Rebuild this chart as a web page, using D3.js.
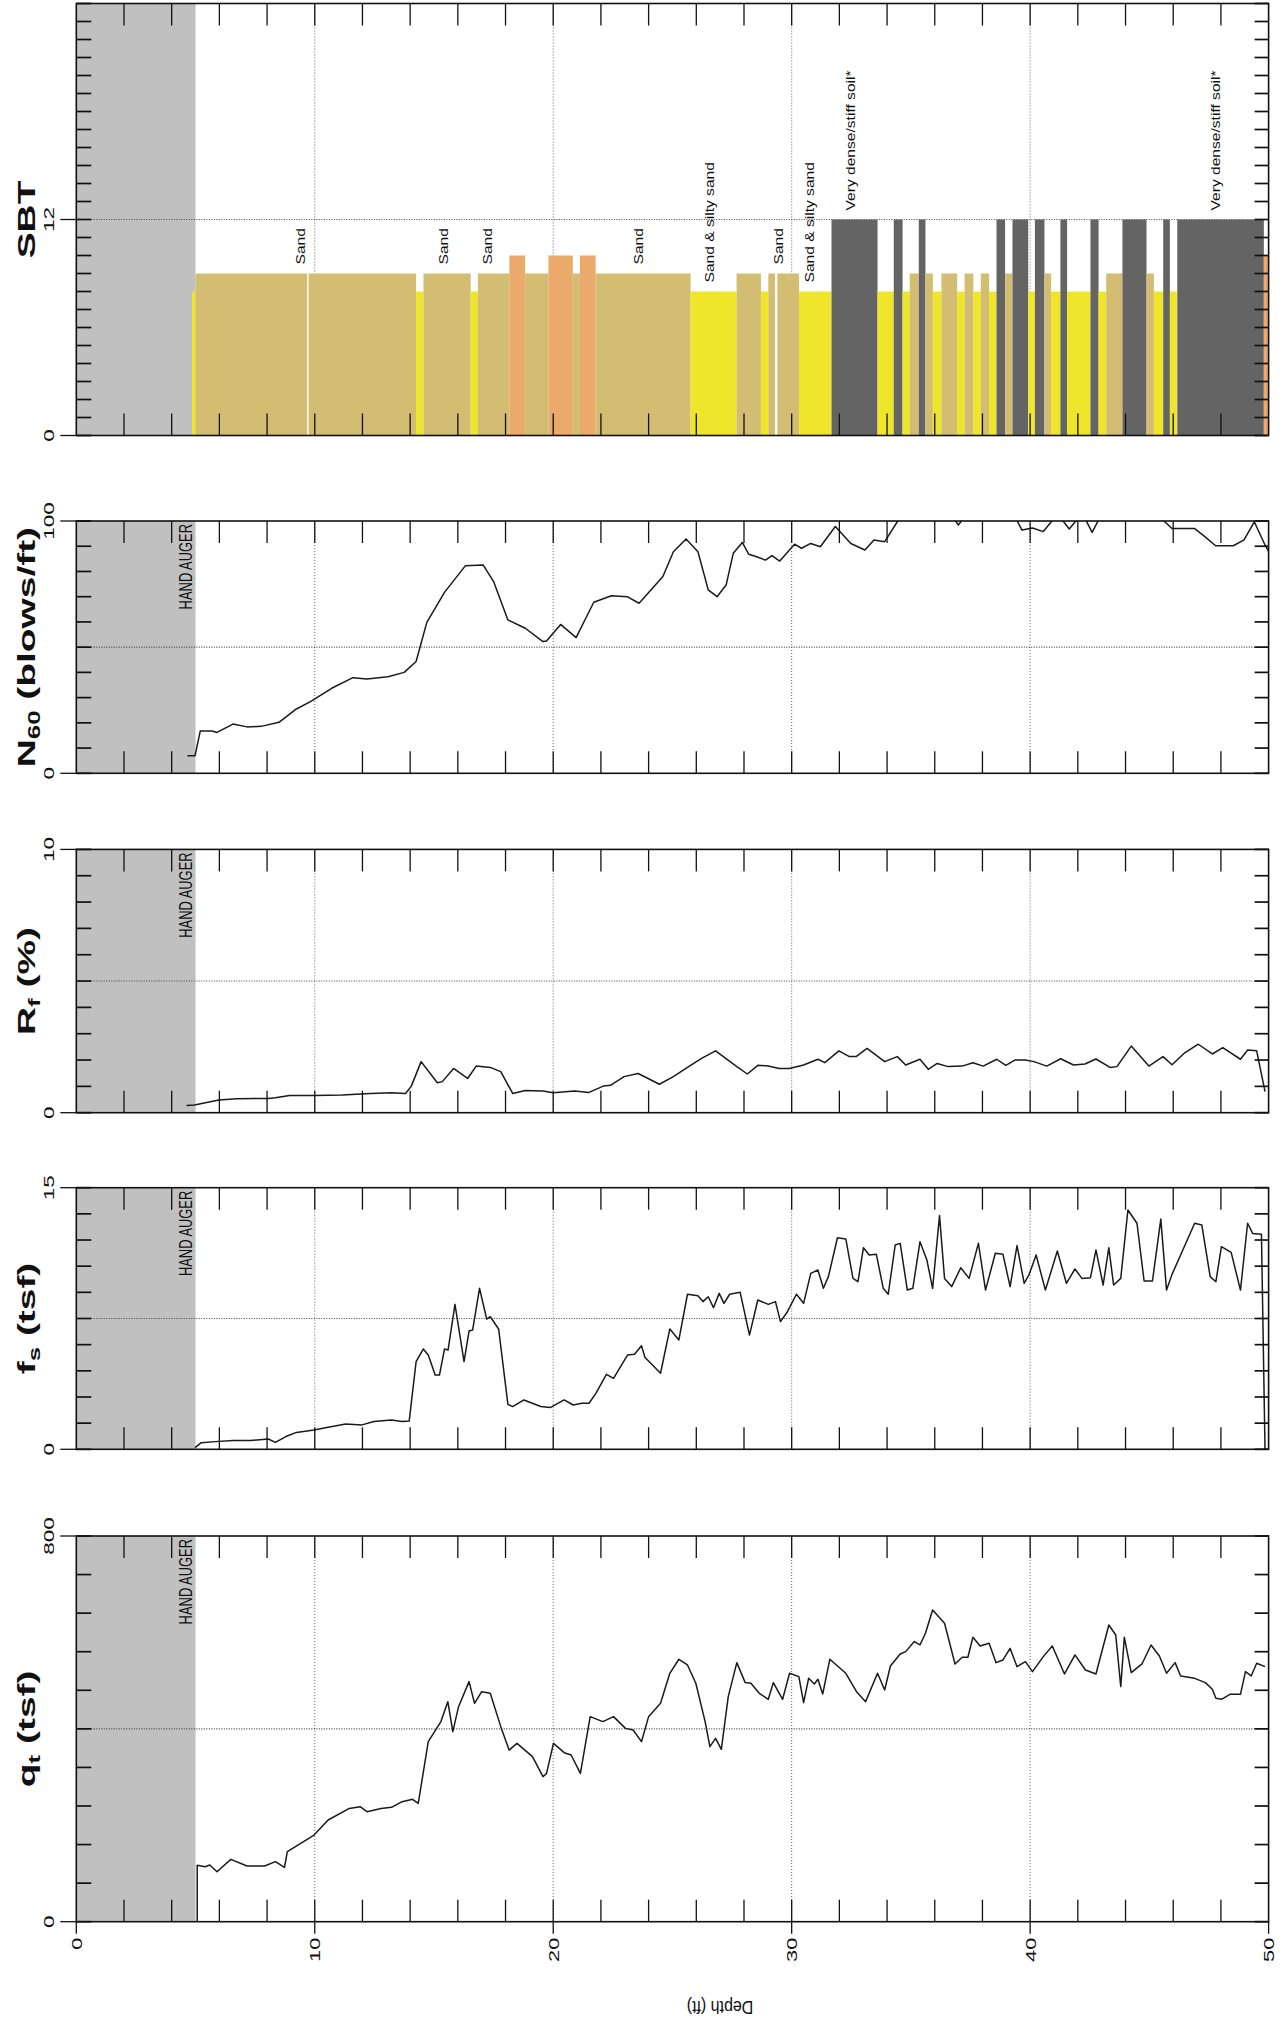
<!DOCTYPE html>
<html><head><meta charset="utf-8">
<script src="https://cdn.jsdelivr.net/npm/d3@7"></script>
<style>
body{margin:0;background:#fff}
svg{display:block}
text{font-family:"Liberation Sans",Arial,Helvetica,sans-serif;fill:#111}
</style>
</head><body>
<svg id="chart" width="1288" height="2028"></svg>
<script>
// ---------------- DATA ----------------
const depthTickLabels = [0, 10, 20, 30, 40, 50];
const handAugerDepth = 5;

// SBT zone colours
const sbtZones  = [8, 9, 10, 12];
const sbtColors = ["#efe52a", "#d3bd72", "#eba96c", "#646464"];

// SBT layers: [top depth, bottom depth, zone]
const sbtLayers = [
  [4.85, 5.0, 8], [5.0, 9.68, 9], [9.74, 14.25, 9], [14.25, 14.56, 8],
  [14.56, 16.54, 9], [16.54, 16.84, 8], [16.84, 18.16, 9], [18.16, 18.82, 10],
  [18.82, 19.8, 9], [19.8, 20.82, 10], [20.82, 21.12, 9], [21.12, 21.78, 10],
  [21.78, 25.76, 9], [25.76, 27.69, 8], [27.69, 28.71, 9], [28.71, 29.02, 8],
  [29.02, 29.3, 9], [29.4, 30.31, 9], [30.31, 31.67, 8], [31.67, 33.6, 12],
  [33.6, 34.28, 8], [34.28, 34.65, 12], [34.65, 34.95, 8], [34.95, 35.33, 9],
  [35.33, 35.61, 12], [35.61, 35.92, 9], [35.92, 36.28, 8], [36.28, 36.94, 9],
  [36.94, 37.25, 8], [37.25, 37.62, 9], [37.62, 37.93, 8], [37.93, 38.28, 9],
  [38.28, 38.59, 8], [38.59, 38.95, 12], [38.95, 39.26, 9], [39.26, 39.92, 12],
  [39.92, 40.2, 8], [40.2, 40.6, 12], [40.6, 40.88, 9], [40.88, 41.27, 8],
  [41.27, 41.55, 12], [41.55, 42.53, 8], [42.53, 42.87, 12], [42.87, 43.19, 8],
  [43.19, 43.87, 9], [43.87, 44.88, 12], [44.88, 45.19, 9], [45.19, 45.58, 8],
  [45.58, 45.86, 12], [45.86, 46.15, 8], [46.17, 49.8, 12], [49.8, 50.0, 10]
];

// SBT labels: [depth, text, zone]
const sbtLabels = [
  [9.45, "Sand", 9], [15.45, "Sand", 9], [17.3, "Sand", 9], [23.6, "Sand", 9],
  [26.6, "Sand & silty sand", 8], [29.5, "Sand", 9], [30.8, "Sand & silty sand", 8],
  [32.5, "Very dense/stiff soil*", 12], [47.8, "Very dense/stiff soil*", 12]
];

// N60 (blows/ft): [depth, value]
const n60Data = [
  [4.66,7],[4.98,7],[5.2,16.8],[5.69,16.8],[5.9,16.2],[6.57,19.5],[7.16,18.4],[7.75,18.6],
  [8.5,20.2],[9.23,25.5],[9.82,28.4],[10.71,33.7],[11.6,37.9],[12.19,37.4],[13.07,38.3],
  [13.75,40],[14.25,44.3],[14.7,59.8],[15.44,71.7],[16.32,82.3],[17.06,82.6],[17.5,76],
  [18.1,60.8],[18.83,57.5],[19.57,52.2],[19.72,52.4],[20.31,59],[20.96,53.8],[21.7,67.8],
  [22.44,70.4],[23.1,70],[23.6,67.4],[24.6,78],[25.04,87.8],[25.57,92.9],[26.07,87.8],
  [26.5,72.7],[26.87,70],[27.25,74.6],[27.55,87.2],[27.93,91.5],[28.2,86.8],[28.5,85.9],
  [28.9,84.5],[29.17,86.3],[29.5,84.1],[30.12,90.8],[30.41,89.2],[30.8,91.1],[31.2,89.8],
  [31.83,97.8],[32.48,91.1],[33.07,88.5],[33.45,92.5],[33.9,91.8],[34.43,99.7],[34.6,101],
  [36.8,101],[36.99,98.4],[37.2,101],[39.4,101],[39.66,96.4],[40.1,97.2],[40.55,95.8],
  [41.0,101],[41.3,101],[41.64,96.8],[42.0,101],[42.3,101],[42.6,95.5],[42.9,101],
  [45.5,101],[45.95,97],[46.9,97],[47.3,94],[47.78,90.2],[48.52,90.2],[48.97,92.5],
  [49.4,99.7],[49.85,90.5],[50,88]
];

// Rf (%): [depth, value]
const rfData = [
  [4.62,0.27],[4.95,0.29],[5.98,0.48],[6.72,0.53],[8.05,0.54],[8.35,0.57],[8.94,0.65],
  [9.97,0.65],[11.15,0.67],[12.33,0.73],[13.22,0.76],[13.81,0.73],[14.05,1.01],[14.46,1.94],
  [15.14,1.14],[15.35,1.18],[15.82,1.68],[16.41,1.3],[16.77,1.77],[17.36,1.72],[17.8,1.56],
  [18.3,0.73],[18.83,0.84],[19.57,0.82],[20.0,0.76],[20.9,0.82],[21.5,0.77],[22.1,1.01],
  [22.4,1.04],[22.97,1.37],[23.56,1.49],[24.0,1.29],[24.45,1.08],[25.04,1.37],[25.63,1.72],
  [26.22,2.06],[26.81,2.35],[27.7,1.75],[28.14,1.47],[28.58,1.8],[29.02,1.77],[29.47,1.68],
  [29.9,1.68],[30.5,1.81],[31.1,2.03],[31.39,1.9],[31.98,2.35],[32.42,2.13],[32.7,2.13],
  [33.16,2.44],[33.9,1.94],[34.43,2.13],[34.78,1.81],[35.38,2.03],[35.73,1.65],[36.1,1.87],
  [36.56,1.75],[37.15,1.77],[37.6,1.9],[38.03,1.77],[38.6,2.03],[38.98,1.8],[39.36,2.0],
  [39.8,2.0],[40.16,1.94],[40.7,1.77],[41.28,2.05],[41.82,1.81],[42.3,1.85],[42.76,2.04],
  [43.35,1.72],[43.64,1.75],[44.24,2.53],[44.98,1.77],[45.57,2.13],[45.95,1.82],[46.45,2.25],
  [47.05,2.6],[47.64,2.23],[48.08,2.47],[48.82,2.03],[49.12,2.38],[49.5,2.35],[49.85,0.8]
];

// fs (tsf): [depth, value]
const fsData = [
  [4.98,0.1],[5.24,0.38],[5.83,0.44],[6.57,0.5],[7.31,0.5],[8.05,0.59],[8.35,0.4],[8.79,0.73],
  [9.23,0.97],[9.97,1.11],[10.56,1.26],[11.3,1.45],[11.98,1.4],[12.48,1.59],[13.22,1.68],
  [13.66,1.59],[13.96,1.62],[14.25,5.03],[14.55,5.75],[14.76,5.41],[15.05,4.26],[15.23,4.26],
  [15.44,5.75],[15.59,5.69],[15.88,8.31],[16.26,5.03],[16.47,6.78],[16.62,6.84],[16.91,9.23],
  [17.21,7.47],[17.36,7.6],[17.71,6.9],[18.1,2.58],[18.3,2.45],[18.77,2.83],[19.48,2.45],
  [19.87,2.39],[20.46,2.83],[20.84,2.54],[21.2,2.64],[21.5,2.64],[21.79,3.21],[22.23,4.3],
  [22.53,4.07],[23.12,5.41],[23.41,5.45],[23.7,5.94],[23.85,5.26],[24.09,4.93],[24.5,4.36],
  [24.89,6.9],[25.27,6.27],[25.63,8.89],[26.07,8.81],[26.28,8.47],[26.5,8.75],[26.72,8.12],
  [26.96,8.94],[27.16,8.37],[27.4,8.89],[27.84,9.0],[28.23,6.55],[28.58,8.56],[29.02,8.31],
  [29.32,8.47],[29.53,7.32],[29.82,7.89],[30.2,8.89],[30.5,8.37],[30.8,10.09],[31.1,10.28],
  [31.33,9.23],[31.54,9.9],[31.92,12.13],[32.27,12.06],[32.57,9.8],[32.78,9.61],[33.01,11.56],
  [33.25,11.14],[33.55,11.18],[33.84,9.23],[34.05,8.89],[34.34,11.71],[34.55,11.81],
  [34.85,9.13],[35.08,9.23],[35.38,11.9],[35.67,10.85],[35.91,9.23],[36.2,13.4],[36.41,9.8],
  [36.71,9.33],[37.09,10.41],[37.44,9.8],[37.83,11.81],[38.13,9.13],[38.54,11.24],
  [38.86,11.18],[39.16,9.33],[39.45,11.68],[39.75,9.52],[39.96,10.03],[40.25,11.14],
  [40.64,9.13],[41.14,11.37],[41.52,9.52],[41.88,10.34],[42.17,9.8],[42.53,9.84],
  [42.76,11.43],[43.06,9.42],[43.3,11.56],[43.5,9.42],[43.8,9.8],[44.1,13.72],[44.48,12.96],
  [44.78,9.65],[45.13,9.65],[45.48,13.2],[45.72,9.13],[45.95,10.03],[46.31,11.14],
  [46.9,12.96],[47.2,12.86],[47.55,9.9],[47.79,9.61],[48.02,11.62],[48.43,11.29],
  [48.82,9.13],[49.12,12.96],[49.33,12.38],[49.7,12.33],[49.85,0]
];

// qt (tsf): [depth, value]
const qtData = [
  [5.07,0],[5.07,117],[5.4,114],[5.6,117.6],[5.9,103.7],[6.48,129.3],[7.16,115.5],[7.9,115.5],
  [8.35,124.5],[8.73,112.7],[8.85,145.2],[9.53,166],[9.97,179.8],[10.56,211],[11.45,235],
  [11.9,238.6],[12.19,228.2],[12.78,235],[13.22,237.2],[13.66,249],[14.1,253.8],[14.34,245.5],
  [14.76,373.4],[15.29,415],[15.58,456.4],[15.79,394.2],[16.03,446],[16.47,498],[16.7,453],
  [17.0,477],[17.36,473.7],[17.8,404.6],[18.15,356],[18.48,370],[19.13,342.3],[19.57,300.8],
  [19.72,307.7],[20.01,370],[20.46,350.6],[20.75,345.8],[21.14,307.7],[21.55,425.3],
  [22.08,415],[22.53,425.3],[23.03,401],[23.35,397.6],[23.7,373.4],[24.0,425.3],[24.5,453],
  [24.89,515.2],[25.27,544.3],[25.63,532.5],[25.98,494.5],[26.37,415],[26.57,363],
  [26.81,380.4],[27.05,357.5],[27.34,466.8],[27.7,537.3],[28.05,495.9],[28.29,494.5],
  [28.64,473.7],[29.02,461.3],[29.23,495.9],[29.62,461.3],[29.91,515.2],[30.3,508.3],
  [30.5,454.4],[30.71,504.8],[30.95,493],[31.1,502.8],[31.3,472.3],[31.6,544.3],[32.27,515.2],
  [32.72,477.2],[33.1,456.4],[33.6,515.2],[33.9,480.6],[34.14,530.4],[34.55,555.3],
  [34.78,560.2],[35.14,581],[35.38,574],[35.61,598.2],[35.91,646.6],[36.41,619],[36.85,534.6],
  [37.15,548.4],[37.39,548.4],[37.6,590],[37.9,572],[38.28,577.5],[38.57,537.3],[38.86,542.9],
  [39.16,567],[39.45,529],[39.8,539.4],[40.1,518.7],[40.55,549.8],[40.93,572],[41.44,513.8],
  [41.88,553.3],[42.32,522.1],[42.76,513.8],[43.3,615.5],[43.59,594.7],[43.8,487.6],
  [43.95,589.9],[44.24,516.6],[44.69,534.6],[45.07,574],[45.42,551.2],[45.72,515.2],
  [46.08,537.3],[46.31,509.7],[46.9,504.8],[47.35,495.9],[47.64,482],[47.79,463.4],
  [48.02,461.3],[48.38,471.6],[48.82,471.6],[49.03,518.7],[49.27,509.7],[49.5,536],[49.85,529]
];

// ---------------- LAYOUT ----------------
const svg = d3.select("#chart");
const x = d3.scaleLinear().domain([0, 50]).range([76.3, 1268.6]);

const panels = [
  {id:"sbt", top:3.5,   bottom:435.5,  max:24,  step:1,   labels:[0,12],  grid:12,  title:[["SBT",""]], type:"bars"},
  {id:"n60", top:521,   bottom:773.3,  max:100, step:10,  labels:[0,100], grid:50,  title:[["N",""],["60","sub"],[" (blows/ft)",""]], data:n60Data},
  {id:"rf",  top:849.4, bottom:1112.7, max:10,  step:1,   labels:[0,10],  grid:5,   title:[["R",""],["f","sub"],[" (%)",""]], data:rfData},
  {id:"fs",  top:1187.7,bottom:1449.3, max:15,  step:1.5, labels:[0,15],  grid:7.5, title:[["f",""],["s","sub"],[" (tsf)",""]], data:fsData},
  {id:"qt",  top:1536,  bottom:1921.7, max:800, step:80,  labels:[0,800], grid:400, title:[["q",""],["t","sub"],[" (tsf)",""]], data:qtData}
];

function vtext(g, px, py, anchor, size, sx, weight) {
  return g.append("text")
    .attr("transform", `translate(${px},${py}) rotate(-90) scale(${sx},1)`)
    .attr("text-anchor", anchor)
    .attr("font-size", size)
    .attr("font-weight", weight || "normal");
}

const defs = svg.append("defs");
const colorOf = d3.scaleOrdinal().domain(sbtZones).range(sbtColors);

panels.forEach(p => {
  const y = d3.scaleLinear().domain([0, p.max]).range([p.bottom, p.top]);
  const g = svg.append("g");
  const x0 = x(0), x1 = x(50);

  defs.append("clipPath").attr("id", "clip-" + p.id)
    .append("rect").attr("x", x0).attr("y", p.top).attr("width", x1 - x0).attr("height", p.bottom - p.top);

  // hand auger zone
  g.append("rect").attr("x", x0).attr("y", p.top)
    .attr("width", x(handAugerDepth) - x0).attr("height", p.bottom - p.top)
    .attr("fill", "#c0c0c0");

  // grid lines
  const gridDepths = [10, 20, 30, 40];
  g.selectAll(".vg").data(gridDepths).join("line")
    .attr("x1", d => x(d)).attr("x2", d => x(d))
    .attr("y1", p.top).attr("y2", p.bottom)
    .attr("stroke", "#555").attr("stroke-width", 0.9).attr("stroke-dasharray", "1,2");
  g.append("line").attr("x1", x0).attr("x2", x1)
    .attr("y1", y(p.grid)).attr("y2", y(p.grid))
    .attr("stroke", "#444").attr("stroke-width", 1.1).attr("stroke-dasharray", "1,1.5");

  const data = g.append("g").attr("clip-path", `url(#clip-${p.id})`);
  if (p.type === "bars") {
    data.selectAll("rect").data(sbtLayers).join("rect")
      .attr("x", d => x(d[0])).attr("width", d => Math.max(0.5, x(d[1]) - x(d[0])))
      .attr("y", d => y(d[2])).attr("height", d => p.bottom - y(d[2]))
      .attr("fill", d => colorOf(d[2]));
    sbtLabels.forEach(l => {
      vtext(g, x(l[0]), y(l[2]) - 9, "start", 13, 1.2)
        .attr("dominant-baseline", "middle").attr("fill", "#222").text(l[1]);
    });
  } else {
    const line = d3.line().x(d => x(d[0])).y(d => y(d[1]));
    data.append("path").datum(p.data).attr("d", line)
      .attr("fill", "none").attr("stroke", "#1a1a1a").attr("stroke-width", 1.5)
      .attr("stroke-linejoin", "round");
    vtext(g, x(handAugerDepth) - 4, p.top + 3, "end", 19, 0.68)
      .attr("fill", "#333").text("HAND AUGER");
  }

  // depth ticks top & bottom (inward)
  const dt = d3.range(2, 50, 2);
  g.selectAll(".tb").data(dt).join("line")
    .attr("x1", d => x(d)).attr("x2", d => x(d))
    .attr("y1", p.bottom).attr("y2", p.bottom - 22)
    .attr("stroke", "#111").attr("stroke-width", 1.3);
  g.selectAll(".tt").data(dt).join("line")
    .attr("x1", d => x(d)).attr("x2", d => x(d))
    .attr("y1", p.top).attr("y2", p.top + 22)
    .attr("stroke", "#111").attr("stroke-width", 1.3);

  // value ticks left & right (inward)
  const vt = d3.range(0, p.max + p.step / 2, p.step);
  g.selectAll(".tl").data(vt).join("line")
    .attr("x1", x0).attr("x2", x0 + 15)
    .attr("y1", d => y(d)).attr("y2", d => y(d))
    .attr("stroke", "#111").attr("stroke-width", 1.7);
  g.selectAll(".tr").data(vt).join("line")
    .attr("x1", x1).attr("x2", x1 - 14)
    .attr("y1", d => y(d)).attr("y2", d => y(d))
    .attr("stroke", "#111").attr("stroke-width", 1.7);
  // outward ticks at labels
  g.selectAll(".to").data(p.labels).join("line")
    .attr("x1", x0).attr("x2", x0 - 16)
    .attr("y1", d => y(d)).attr("y2", d => y(d))
    .attr("stroke", "#111").attr("stroke-width", 1.3);

  // border
  g.append("rect").attr("x", x0).attr("y", p.top)
    .attr("width", x1 - x0).attr("height", p.bottom - p.top)
    .attr("fill", "none").attr("stroke", "#111").attr("stroke-width", 1.6);

  // value labels
  p.labels.forEach(v => {
    vtext(g, 54, y(v), "middle", 15, 1.5).attr("fill", "#222").text(String(v));
  });

  // title
  const t = vtext(g, 35, (p.top + p.bottom) / 2, "middle", 24, 1.62, "bold");
  p.title.forEach(part => {
    const ts = t.append("tspan").text(part[0]);
    if (part[1] === "sub") ts.attr("font-size", 16).attr("baseline-shift", "-30%");
  });
});

// bottom depth axis
const last = panels[panels.length - 1];
const ax = svg.append("g");
ax.selectAll("line").data(depthTickLabels).join("line")
  .attr("x1", d => x(d)).attr("x2", d => x(d))
  .attr("y1", last.bottom).attr("y2", last.bottom + 12)
  .attr("stroke", "#111").attr("stroke-width", 1.3);
depthTickLabels.forEach(d => {
  vtext(ax, x(d) + 5.5, last.bottom + 16, "end", 14.5, 1.5).attr("fill", "#222").text(String(d));
});
ax.append("text")
  .attr("transform", `translate(720,2006) rotate(180) scale(1,1.2)`)
  .attr("text-anchor", "middle").attr("dominant-baseline", "middle")
  .attr("font-size", 16).attr("fill", "#222").text("Depth (ft)");
</script>
</body></html>
